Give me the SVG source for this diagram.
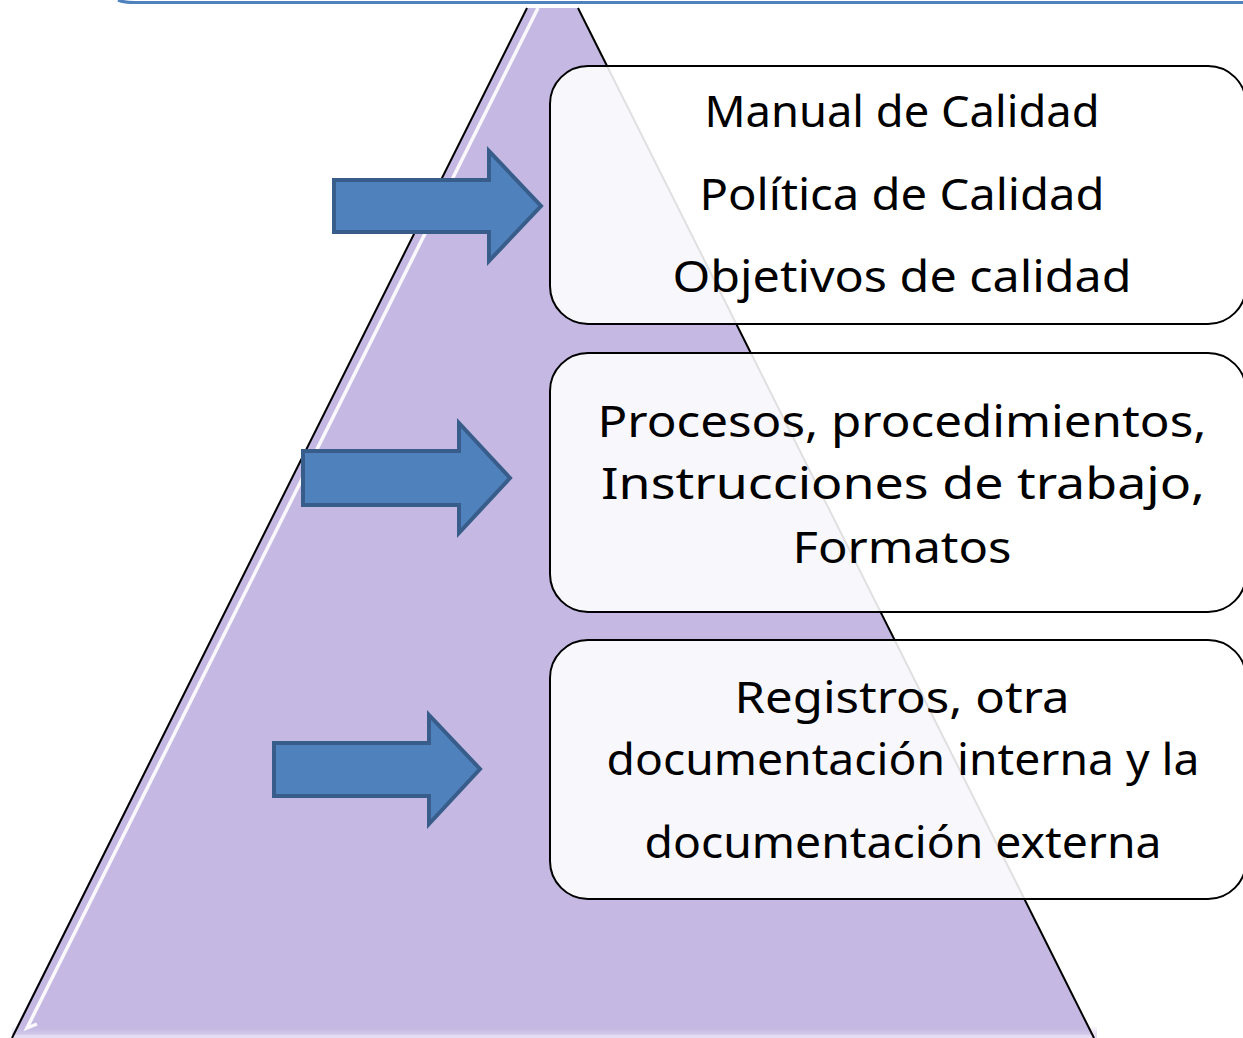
<svg xmlns="http://www.w3.org/2000/svg" width="1243" height="1038" viewBox="0 0 1243 1038">
<style>
.box{fill:#ffffff;fill-opacity:0.88;stroke:#000;stroke-width:2}
.arr{fill:#4f81bd;stroke:#385d8a;stroke-width:4;stroke-linejoin:miter}
.t{font-family:"Noto Sans","DejaVu Sans",sans-serif;font-size:44px;fill:#000;text-anchor:middle}
</style>
<defs>
<linearGradient id="bot" x1="0" y1="0" x2="0" y2="1">
<stop offset="0" stop-color="#c5b9e3" stop-opacity="0"/>
<stop offset="1" stop-color="#e4ddf3" stop-opacity="1"/>
</linearGradient>
</defs>
<rect width="1243" height="1038" fill="#fff"/>
<path d="M118,0 Q124,2.5 135,2.5 L1243,2.5" fill="none" stroke="#4f81bd" stroke-width="3"/>
<g id="pyramid">
<polygon points="527,8 578,8 1093,1035 12,1035" fill="#c5b9e3"/>
<rect x="12" y="1026" width="1085" height="12" fill="url(#bot)"/>
<line x1="527" y1="8" x2="12" y2="1038" stroke="#000" stroke-width="2"/>
<line x1="578" y1="8" x2="1094" y2="1038" stroke="#000" stroke-width="2"/>
<path d="M538,8 L27,1028 L37,1024" fill="none" stroke="#fff" stroke-width="3.5" stroke-opacity="0.9"/>
</g>
<g id="connectors">
<polygon class="arr" points="334,180 489,180 489,151 541,206 489,261 489,232 334,232"/>
<polygon class="arr" points="303,451 459,451 459,423 510,478 459,533 459,505 303,505"/>
<polygon class="arr" points="274,743 429,743 429,715 480,769 429,824 429,796 274,796"/>
</g>
<g id="box1">
<rect class="box" x="550" y="66" width="696" height="258" rx="38"/>
<text class="t" x="902" y="127" textLength="395" lengthAdjust="spacingAndGlyphs">Manual de Calidad</text>
<text class="t" x="902" y="210" textLength="405" lengthAdjust="spacingAndGlyphs">Política de Calidad</text>
<text class="t" x="902" y="292" textLength="459" lengthAdjust="spacingAndGlyphs">Objetivos de calidad</text>
</g>
<g id="box2">
<rect class="box" x="550" y="353" width="696" height="259" rx="38"/>
<text class="t" x="902" y="437" textLength="609" lengthAdjust="spacingAndGlyphs">Procesos, procedimientos,</text>
<text class="t" x="903" y="499" textLength="604" lengthAdjust="spacingAndGlyphs">Instrucciones de trabajo,</text>
<text class="t" x="902" y="563" textLength="219" lengthAdjust="spacingAndGlyphs">Formatos</text>
</g>
<g id="box3">
<rect class="box" x="550" y="640" width="696" height="259" rx="38"/>
<text class="t" x="902" y="713" textLength="335" lengthAdjust="spacingAndGlyphs">Registros, otra</text>
<text class="t" x="903" y="775" textLength="593" lengthAdjust="spacingAndGlyphs">documentación interna y la</text>
<text class="t" x="903" y="858" textLength="517" lengthAdjust="spacingAndGlyphs">documentación externa</text>
</g>
</svg>
